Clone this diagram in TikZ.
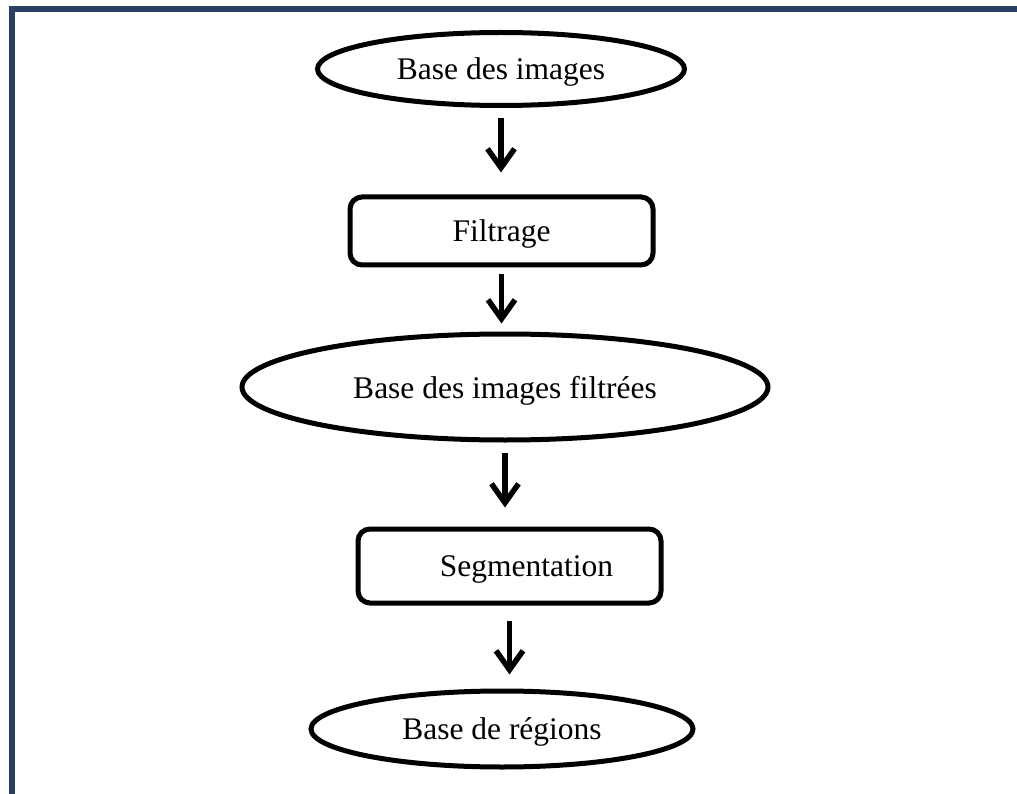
\documentclass[tikz,border=0pt]{standalone}
\usepackage{fontspec}
\setmainfont{Liberation Serif}
\usetikzlibrary{shapes.geometric,arrows.meta}
\definecolor{framecol}{RGB}{40,64,100}
\begin{document}
\begin{tikzpicture}[x=1pt,y=-1pt,
  every node/.style={font=\fontsize{31.5}{38}\selectfont, inner sep=0pt, text depth=0pt},
  dbase/.style={ellipse, draw, line width=5pt},
  stepbox/.style={rectangle, rounded corners=12pt, draw, line width=5pt,
    minimum width=303pt},
  arr/.style={line width=5.5pt, line join=miter,
    -{Straight Barb[length=19pt,width=27pt]}}]
  \useasboundingbox (0,0) rectangle (1017,794);
  \begin{scope}
    \clip (0,0) rectangle (1017,794);
    % page frame, running off the right and bottom edges
    \draw[framecol, line width=6pt] (12,9) rectangle (1021,800);
  \end{scope}

  % flow of the processing chain
  \node[dbase, minimum width=367pt, minimum height=73pt] (e1) at (501,69) {Base des images};
  \node[stepbox, minimum height=68pt] (f) at (501.5,231) {Filtrage};
  \node[dbase, minimum width=526pt, minimum height=106pt] (e2) at (505,387) {Base des images filtrées};
  \node[stepbox, minimum height=74pt] (s) at (509.5,566) {\hspace*{34pt}Segmentation};
  \node[dbase, minimum width=382pt, minimum height=76pt] (e3) at (502,729) {Base de régions};

  \draw[arr, shorten <=10pt, shorten >=22pt] (e1.south) -- (e1.south |- f.north);
  \draw[arr, shorten <=7pt,  shorten >=8pt]  (f.south)  -- (f.south |- e2.north);
  \draw[arr, shorten <=10pt, shorten >=19pt] (e2.south) -- (e2.south |- s.north);
  \draw[arr, shorten <=15pt, shorten >=14pt] (s.south)  -- (s.south |- e3.north);
\end{tikzpicture}
\end{document}
